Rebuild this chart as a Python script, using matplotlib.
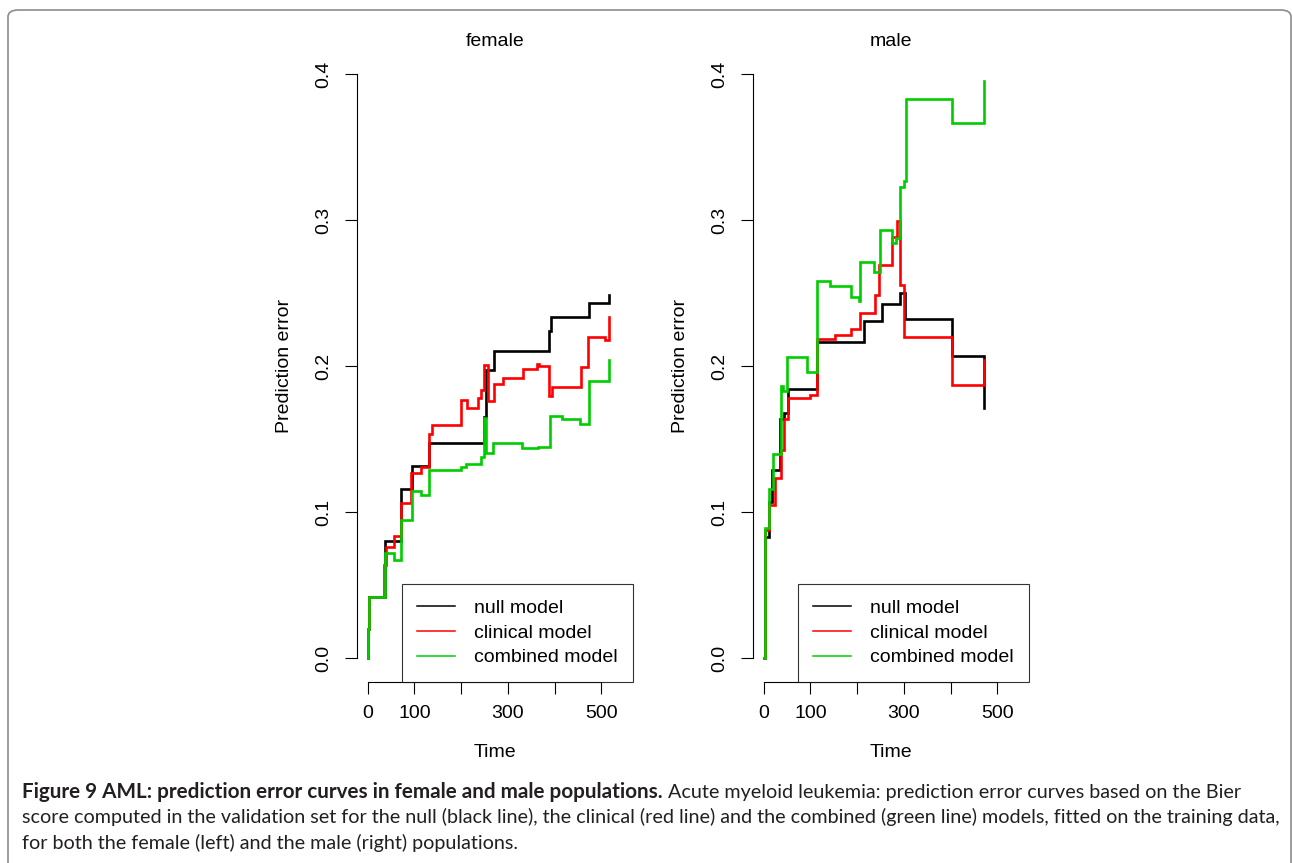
import matplotlib
matplotlib.use("Agg")
import matplotlib.pyplot as plt
from matplotlib.lines import Line2D
from matplotlib.patches import FancyBboxPatch

# female population: step change times and prediction error values
female_null_t = [0, 1, 3, 37, 71, 95, 132, 248, 253, 270, 388, 393, 473, 516]
female_null_v = [0, 0.02, 0.042, 0.080, 0.1155, 0.1317, 0.147, 0.165, 0.197, 0.2105,
                 0.224, 0.2338, 0.2434, 0.2484]
female_clin_t = [0, 1, 3, 35, 39, 57, 71, 93, 114, 131, 138, 200, 213, 237, 243, 250,
                 257, 271, 289, 333, 362, 366, 388, 395, 457, 471, 507, 516]
female_clin_v = [0, 0.02, 0.042, 0.0637, 0.0763, 0.0836, 0.1064, 0.127, 0.131, 0.1534,
                 0.1594, 0.1767, 0.1715, 0.178, 0.1836, 0.201, 0.176, 0.188, 0.192,
                 0.198, 0.2016, 0.200, 0.1795, 0.1858, 0.199, 0.2196, 0.218, 0.2333]
female_comb_t = [0, 1, 3, 37, 57, 71, 95, 114, 132, 200, 210, 243, 249, 254, 268, 331,
                 364, 391, 416, 455, 473, 516]
female_comb_v = [0, 0.02, 0.042, 0.0721, 0.067, 0.0945, 0.1144, 0.1115, 0.1288, 0.1306,
                 0.1329, 0.1379, 0.1646, 0.1406, 0.1475, 0.1436, 0.1445, 0.166, 0.1636,
                 0.1605, 0.1897, 0.204]

# male population
male_null_t = [0, 2, 12, 18, 34, 44, 53, 114, 215, 253, 291, 302, 403, 471]
male_null_v = [0, 0.0831, 0.107, 0.1288, 0.1635, 0.1676, 0.1842, 0.2162, 0.231, 0.2425,
               0.250, 0.2324, 0.2068, 0.171]
male_clin_t = [0, 3, 12, 25, 36, 44, 53, 100, 113, 153, 186, 207, 238, 246, 275, 286,
               291, 301, 403, 471]
male_clin_v = [0, 0.0877, 0.1048, 0.123, 0.1425, 0.1635, 0.1779, 0.180, 0.2183, 0.221,
               0.2251, 0.2365, 0.2486, 0.269, 0.2886, 0.2995, 0.2555, 0.220, 0.187, 0.204]
male_comb_t = [0, 2, 12, 19, 36, 38, 42, 50, 93, 113, 141, 187, 205, 207, 236, 250, 275,
               284, 291, 300, 304, 403, 471]
male_comb_v = [0, 0.0888, 0.1155, 0.140, 0.163, 0.1863, 0.183, 0.206, 0.1957, 0.2584,
               0.255, 0.2475, 0.2446, 0.2715, 0.2646, 0.2932, 0.2845, 0.2877, 0.3228,
               0.327, 0.3826, 0.3667, 0.3954]

model_names = ["null model", "clinical model", "combined model"]
model_colors = ["black", "#ff0000", "#00cd00"]
x_ticks = [0, 100, 200, 300, 400, 500]
x_tick_labels = ["0", "100", "", "300", "", "500"]
y_ticks = [0.0, 0.1, 0.2, 0.3, 0.4]
y_tick_labels = ["0.0", "0.1", "0.2", "0.3", "0.4"]

R_FONT = "Liberation Sans"
FS = 14
W, H = 1293, 863


def panel(ax, title, series):
    for (t, v), c in zip(series, model_colors):
        ax.step(t, v, where="post", color=c, lw=1.9, solid_joinstyle="miter")
    ax.set_xlim(-23, 568)
    ax.set_ylim(-0.0164, 0.4164)
    for s in ["top", "right"]:
        ax.spines[s].set_visible(False)
    ax.spines["bottom"].set_bounds(0, 500)
    ax.spines["left"].set_bounds(0, 0.4)
    for s in ["bottom", "left"]:
        ax.spines[s].set_linewidth(0.8)
    ax.set_xticks(x_ticks)
    ax.set_xticklabels(x_tick_labels, fontsize=FS, family=R_FONT)
    ax.set_yticks(y_ticks)
    ax.set_yticklabels(y_tick_labels, fontsize=FS, family=R_FONT, rotation=90, va="center")
    ax.tick_params(length=8.6, width=0.8, pad=8)
    ax.tick_params(axis="y", pad=9.5)
    ax.text(0.5, 1.013, title, transform=ax.transAxes, ha="center", va="center",
            fontsize=FS, family=R_FONT)
    ax.text(0.5, -0.112, "Time", transform=ax.transAxes, ha="center", va="center",
            fontsize=FS, family=R_FONT)
    ax.text(-0.261, 0.5, "Prediction error", transform=ax.transAxes, ha="center",
            va="center", rotation=90, fontsize=FS, family=R_FONT)
    handles = [Line2D([], [], color=c, lw=1.1) for c in model_colors]
    leg = ax.legend(handles, model_names, loc="lower right", borderaxespad=0,
                    fancybox=False, prop={"family": R_FONT, "size": FS},
                    handlelength=1.95, handletextpad=0.95, borderpad=0.8,
                    labelspacing=0.36)
    leg.get_frame().set_edgecolor("black")
    leg.get_frame().set_linewidth(0.8)


fig = plt.figure(figsize=(W / 100, H / 100), dpi=100)

ax1 = fig.add_axes([357 / W, 1 - 682 / H, 276 / W, 632 / H])
ax2 = fig.add_axes([753 / W, 1 - 682 / H, 276 / W, 632 / H])
panel(ax1, "female", [(female_null_t, female_null_v), (female_clin_t, female_clin_v),
                      (female_comb_t, female_comb_v)])
panel(ax2, "male", [(male_null_t, male_null_v), (male_clin_t, male_clin_v),
                    (male_comb_t, male_comb_v)])

# rounded frame around the figure
frame = FancyBboxPatch((8 / W, -0.05), 1283 / W, 1 - 10 / H + 0.05,
                       boxstyle="round,pad=0,rounding_size=0.008",
                       transform=fig.transFigure, fill=False, edgecolor="#8c8c8c",
                       lw=1.2, clip_on=False)
fig.patches.append(frame)

# caption
cap_font = "Lato"
cap_col = "#231f20"
bold = fig.text(22 / W, 1 - 792 / H, "Figure 9 AML: prediction error curves in female and male populations.",
                fontsize=14.9, family=cap_font, weight="bold", color=cap_col, va="center")
fig.canvas.draw()
bb = bold.get_window_extent(renderer=fig.canvas.get_renderer())
fig.text(bb.x1 / W + 5 / W, 1 - 792 / H,
         "Acute myeloid leukemia: prediction error curves based on the Bier",
         fontsize=14.2, family=cap_font, color=cap_col, va="center")
fig.text(22 / W, 1 - 817 / H,
         "score computed in the validation set for the null (black line), the clinical (red line) "
         "and the combined (green line) models, fitted on the training data,",
         fontsize=14.2, family=cap_font, color=cap_col, va="center")
fig.text(22 / W, 1 - 843 / H,
         "for both the female (left) and the male (right) populations.",
         fontsize=14.2, family=cap_font, color=cap_col, va="center")

fig.savefig("out.png", dpi=100)
